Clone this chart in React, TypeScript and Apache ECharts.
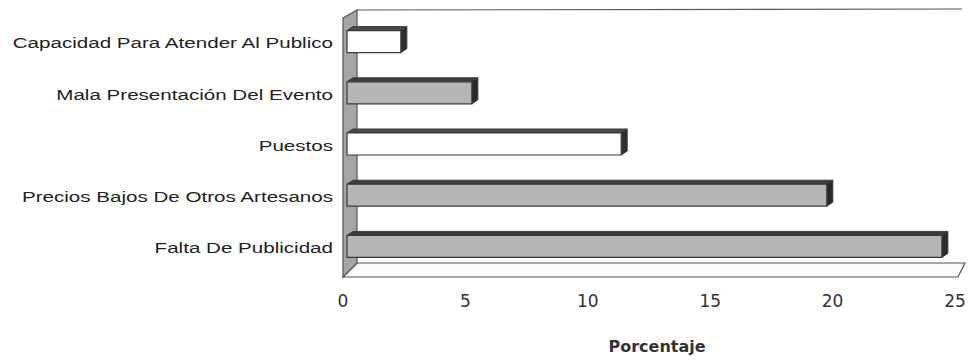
import React, { useEffect, useRef } from "react";
import * as echarts from "echarts";

const categories = [
  "Capacidad Para Atender Al Publico",
  "Mala Presentación Del Evento",
  "Puestos",
  "Precios Bajos De Otros Artesanos",
  "Falta De Publicidad",
];
const values = [2.2, 5.1, 11.2, 19.6, 24.3];
const xTicks = [0, 5, 10, 15, 20, 25];
const axisTitle = "Porcentaje";

// styles (per bar): white or gray
const barStyles = [
  { front: "#ffffff", top: "#4a4a4a", side: "#2e2e2e", border: "#3a3a3a" },
  { front: "#b5b5b5", top: "#3c3c3c", side: "#2a2a2a", border: "#3a3a3a" },
  { front: "#ffffff", top: "#4a4a4a", side: "#2e2e2e", border: "#3a3a3a" },
  { front: "#b5b5b5", top: "#3c3c3c", side: "#2a2a2a", border: "#3a3a3a" },
  { front: "#b5b5b5", top: "#3c3c3c", side: "#2a2a2a", border: "#3a3a3a" },
];

const FONT = "Liberation Sans, Arial, sans-serif";
const WIDE = "DejaVu Sans, Liberation Sans, Arial, sans-serif";

export default function App() {
  const ref = useRef<HTMLDivElement>(null);
  useEffect(() => {
    if (!ref.current) return;
    const chart = echarts.init(ref.current, null, { renderer: "svg" });
    const option: any = {
      animation: false,
      backgroundColor: "#ffffff",
      grid: { left: 343, right: 15, top: 16, bottom: 92, containLabel: false },
      xAxis: {
        type: "value",
        min: xTicks[0],
        max: xTicks[xTicks.length - 1],
        interval: 5,
        axisLine: { show: false },
        axisTick: { show: false },
        splitLine: { show: false },
        axisLabel: { fontFamily: WIDE, fontSize: 17, color: "#333", margin: 20 },
        name: axisTitle,
        nameLocation: "middle",
        nameGap: 66,
        nameTextStyle: {
          fontFamily: WIDE,
          fontSize: 16,
          fontWeight: "bold",
          color: "#333",
          padding: [0, 0, 0, 16],
        },
      },
      yAxis: {
        type: "category",
        data: categories,
        inverse: true,
        axisLine: { show: false },
        axisTick: { show: false },
        splitLine: { show: false },
        axisLabel: { show: false },
      },
      series: [
        {
          type: "custom",
          silent: true,
          data: [[0, 0]],
          encode: { x: 0, y: 1 },
          z: 1,
          renderItem: (params: any, api: any) => {
            const cs = params.coordSys;
            const x0 = cs.x;
            const x1 = cs.x + cs.width;
            const yT = cs.y;
            const yB = cs.y + cs.height;
            return {
              type: "group",
              children: [
                {
                  type: "line",
                  shape: { x1: x0 + 14, y1: yT - 6, x2: x1 + 7, y2: yT - 7 },
                  style: { stroke: "#555", lineWidth: 1.2 },
                },
                {
                  type: "polygon",
                  shape: {
                    points: [
                      [x0, yB + 5],
                      [x1 + 3, yB + 5],
                      [x1 + 10, yB - 9],
                      [x0 + 14, yB - 9],
                    ],
                  },
                  style: { fill: "#fbfbfb", stroke: "#555", lineWidth: 1.2 },
                },
                {
                  type: "polygon",
                  shape: {
                    points: [
                      [x0, yT + 2],
                      [x0 + 14, yT - 6],
                      [x0 + 14, yB - 9],
                      [x0, yB + 5],
                    ],
                  },
                  style: { fill: "#a5a5a5", stroke: "#555", lineWidth: 1.2 },
                },
              ],
            };
          },
        },
        {
          type: "custom",
          silent: true,
          data: values.map((v, i) => [v, i]),
          encode: { x: 0, y: 1 },
          z: 2,
          renderItem: (params: any, api: any) => {
            const i = api.value(1);
            const v = api.value(0);
            const p0 = api.coord([0, i]);
            const p1 = api.coord([v, i]);
            const st = barStyles[params.dataIndex];
            const h = 22;
            const off = 4;
            const dx = 6;
            const dy = 4;
            const xa = p0[0] + off;
            const xb = p1[0] + off;
            const ya = p0[1] - h / 2;
            const yb = ya + h;
            return {
              type: "group",
              children: [
                {
                  type: "text",
                  x: p0[0] - 10,
                  y: p0[1] + 2,
                  scaleX: 1.47,
                  style: {
                    text: categories[i],
                    align: "right",
                    verticalAlign: "middle",
                    fontFamily: FONT,
                    fontSize: 14,
                    fill: "#222",
                  },
                },
                {
                  type: "polygon",
                  shape: { points: [[xa, ya], [xa + dx, ya - dy], [xb + dx, ya - dy], [xb, ya]] },
                  style: { fill: st.top, stroke: st.border, lineWidth: 1 },
                },
                {
                  type: "polygon",
                  shape: { points: [[xb, ya], [xb + dx, ya - dy], [xb + dx, yb - dy], [xb, yb]] },
                  style: { fill: st.side, stroke: st.border, lineWidth: 1 },
                },
                {
                  type: "rect",
                  shape: { x: xa, y: ya, width: xb - xa, height: h },
                  style: { fill: st.front, stroke: st.border, lineWidth: 1.2 },
                },
              ],
            };
          },
        },
      ],
    };
    chart.setOption(option);
    return () => chart.dispose();
  }, []);
  return (
    <div
      ref={ref}
      style={{ position: "absolute", left: 0, top: 0, width: 970, height: 364 }}
    />
  );
}
